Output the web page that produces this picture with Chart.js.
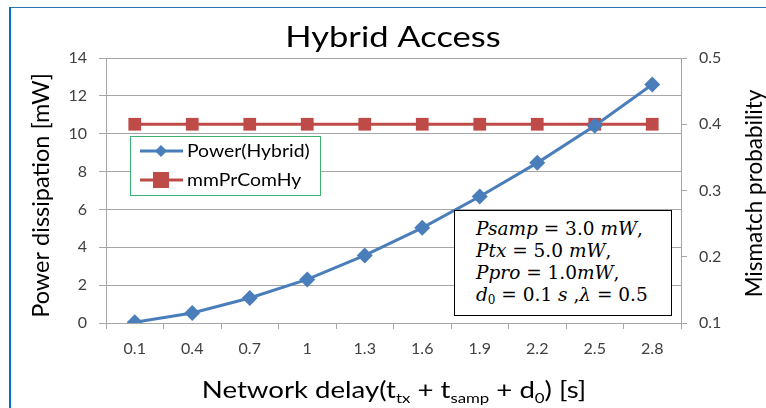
<!DOCTYPE html>
<html>
<head>
<meta charset="utf-8">
<script src="https://cdn.jsdelivr.net/npm/chart.js@4"></script>
<style>
  body { margin: 0; background: #fff; }
  #wrap { position: relative; width: 766px; height: 408px; overflow: hidden; }
  #frameTop { position: absolute; left: 9px; top: 7px; width: 757px; height: 1px; background: #2e75b6; }
  #frameLeft { position: absolute; left: 9px; top: 7px; width: 2px; height: 401px; background: #0070c0; }
  #note {
    position: absolute; left: 454px; top: 210px; width: 218px; height: 106px;
    border: 1px solid #000; background: #fff; box-sizing: border-box;
    font-family: "DejaVu Serif", "Liberation Serif", serif; font-size: 18.5px; line-height: 22px;
    padding: 7px 0 0 21px; color: #000; white-space: nowrap;
  }
  #note i { font-style: italic; }
  #note sub { font-size: 12px; vertical-align: -3px; line-height: 0; }
  #xtitle {
    position: absolute; left: 0; top: 375px; width: 788px; text-align: center;
    font-family: Lato, "Open Sans", sans-serif; font-size: 23px; color: #000; white-space: nowrap;
    transform: scaleX(1.2); transform-origin: 394px 0;
  }
  #xtitle sub { font-size: 14px; vertical-align: -5px; line-height: 0; }
  canvas { position: absolute; left: 0; top: 0; }
</style>
</head>
<body>
<div id="wrap">
  <canvas id="chart" width="766" height="408"></canvas>
  <div id="frameTop"></div>
  <div id="frameLeft"></div>
  <div id="xtitle">Network delay(t<sub>tx</sub> + t<sub>samp</sub> + d<sub>0</sub>) [s]</div>
  <div id="note">
    <i>Psamp</i> = 3.0 <i>mW</i>,<br>
    <i>Ptx</i> = 5.0 <i>mW</i>,<br>
    <i>Ppro</i> = 1.0<i>mW</i>,<br>
    <i>d</i><sub>0</sub> = 0.1 <i>s</i> ,<i>λ</i> = 0.5
  </div>
</div>
<script>
const delays = ['0.1', '0.4', '0.7', '1', '1.3', '1.6', '1.9', '2.2', '2.5', '2.8'];
const powerHybrid = [0.04, 0.53, 1.32, 2.3, 3.57, 5.03, 6.68, 8.46, 10.42, 12.6];
const mismatch = [0.4, 0.4, 0.4, 0.4, 0.4, 0.4, 0.4, 0.4, 0.4, 0.4];
const leftTicks = [0, 2, 4, 6, 8, 10, 12, 14];
const rightTicks = [0.1, 0.2, 0.3, 0.4, 0.5];

const blue = '#4a7ebb';
const red = '#be4b48';
const tickFont = { family: 'Lato, "Open Sans", sans-serif', size: 16 };
const tickColor = '#404040';
const gridColor = '#a6a6a6';

// titles and the in-chart legend
const decorations = {
    id: 'decorations',
    afterDraw(chart) {
        const ctx = chart.ctx;
        const area = chart.chartArea;
        const mid = (area.top + area.bottom) / 2;
        ctx.save();
        ctx.fillStyle = '#000';
        ctx.textAlign = 'center';
        ctx.textBaseline = 'middle';

        ctx.save();
        ctx.translate(393, 38);
        ctx.scale(1.19, 1);
        ctx.font = '29px Lato, "Open Sans", sans-serif';
        ctx.fillText('Hybrid Access', 0, 0);
        ctx.restore();

        ctx.font = '23.5px Lato, "Open Sans", sans-serif';
        ctx.save();
        ctx.translate(41, mid + 5);
        ctx.rotate(-Math.PI / 2);
        ctx.fillText('Power dissipation [mW]', 0, 0);
        ctx.restore();

        ctx.font = '22.5px Lato, "Open Sans", sans-serif';
        ctx.save();
        ctx.translate(755, mid + 3);
        ctx.rotate(-Math.PI / 2);
        ctx.fillText('Mismatch probability', 0, 0);
        ctx.restore();

        // legend box
        const lx = 130, ly = 136, lw = 190, lh = 59;
        ctx.fillStyle = '#fff';
        ctx.fillRect(lx, ly, lw, lh);
        ctx.strokeStyle = '#3cb371';
        ctx.lineWidth = 1;
        ctx.strokeRect(lx + 0.5, ly + 0.5, lw, lh);
        const entries = [
            { label: 'Power(Hybrid)', color: blue, y: ly + 15, shape: 'diamond' },
            { label: 'mmPrComHy', color: red, y: ly + 44, shape: 'square' }
        ];
        ctx.font = '17px Lato, "Open Sans", sans-serif';
        ctx.textAlign = 'left';
        entries.forEach(function(e) {
            ctx.strokeStyle = e.color;
            ctx.lineWidth = 3;
            ctx.beginPath();
            ctx.moveTo(lx + 10, e.y);
            ctx.lineTo(lx + 53, e.y);
            ctx.stroke();
            ctx.fillStyle = e.color;
            const cx = lx + 31;
            if (e.shape === 'diamond') {
                ctx.beginPath();
                ctx.moveTo(cx, e.y - 6);
                ctx.lineTo(cx + 6, e.y);
                ctx.lineTo(cx, e.y + 6);
                ctx.lineTo(cx - 6, e.y);
                ctx.closePath();
                ctx.fill();
            } else {
                ctx.fillRect(cx - 8, e.y - 8, 16, 16);
            }
            ctx.fillStyle = '#000';
            ctx.save();
            ctx.translate(lx + 57, e.y + 1);
            ctx.scale(1.14, 1);
            ctx.fillText(e.label, 0, 0);
            ctx.restore();
        });
        ctx.restore();
    }
};

const ctx = document.getElementById('chart').getContext('2d');
new Chart(ctx, {
    type: 'line',
    data: {
        labels: delays,
        datasets: [{
            label: 'Power(Hybrid)',
            data: powerHybrid,
            yAxisID: 'y',
            borderColor: blue,
            backgroundColor: blue,
            borderWidth: 3,
            pointStyle: 'rectRot',
            pointRadius: 8,
            pointBorderWidth: 0,
            tension: 0,
            order: 1
        }, {
            label: 'mmPrComHy',
            data: mismatch,
            yAxisID: 'y1',
            borderColor: red,
            backgroundColor: red,
            borderWidth: 3,
            pointStyle: 'rect',
            pointRadius: 9,
            pointBorderWidth: 0,
            tension: 0,
            order: 2
        }]
    },
    options: {
        responsive: false,
        animation: false,
        layout: { padding: { top: 58, left: 0, right: 0, bottom: 0 } },
        plugins: {
            legend: { display: false },
            tooltip: { enabled: false }
        },
        scales: {
            x: {
                offset: true,
                grid: { offset: true, drawOnChartArea: false, tickLength: 6, color: gridColor },
                border: { color: gridColor },
                ticks: { font: tickFont, color: tickColor, padding: 10 },
                afterFit: function(scale) { scale.height = 85; }
            },
            y: {
                position: 'left',
                min: 0,
                max: 14,
                afterBuildTicks: function(scale) { scale.ticks = leftTicks.map(v => ({ value: v })); },
                grid: { color: gridColor, tickLength: 7 },
                border: { color: gridColor },
                ticks: { font: tickFont, color: tickColor, padding: 12 },
                afterFit: function(scale) { scale.width = 106; }
            },
            y1: {
                position: 'right',
                min: 0.1,
                max: 0.5,
                afterBuildTicks: function(scale) { scale.ticks = rightTicks.map(v => ({ value: v })); },
                grid: { drawOnChartArea: false, color: gridColor, tickLength: 6 },
                border: { color: gridColor },
                ticks: { font: tickFont, color: tickColor, padding: 12,
                    callback: function(value) { return value.toFixed(1); } },
                afterFit: function(scale) { scale.width = 85; }
            }
        }
    },
    plugins: [decorations]
});
</script>
</body>
</html>
